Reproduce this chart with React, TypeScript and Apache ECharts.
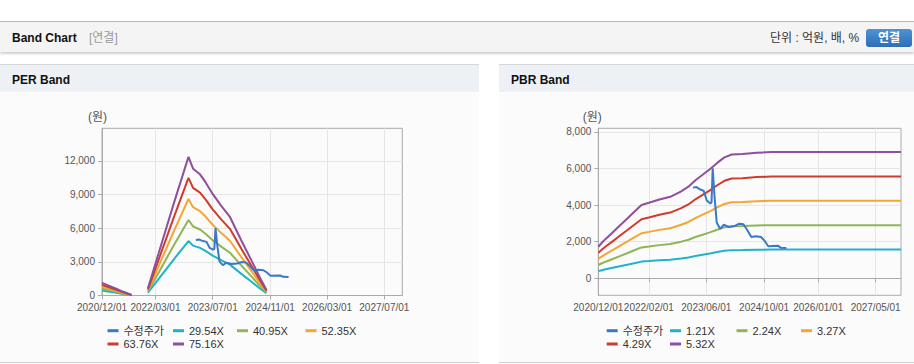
import React, { useEffect, useRef } from 'react';
import * as echarts from 'echarts';

// ---------- PER band data ----------
const perDates = ['2020-12-01', '2021-02-01', '2021-04-01', '2021-06-01', '2021-08-10', '2021-11-01', '2021-12-27', '2022-04-01', '2022-08-01', '2022-12-07', '2023-01-15', '2023-03-15', '2023-05-01', '2023-07-01', '2023-09-15', '2023-11-25', '2024-03-01', '2024-06-01', '2024-08-01', '2024-10-01'];
const per2954 = [440, 338, 236, 130, 16, null, 255, 1533, 3183, 4854, 4441, 4244, 3969, 3557, 3124, 2751, 1926, 1179, 668, 197];
const per4095 = [610, 469, 327, 180, 22, null, 354, 2125, 4413, 6728, 6156, 5884, 5502, 4930, 4331, 3814, 2670, 1634, 926, 272];
const per5235 = [780, 599, 418, 230, 28, null, 453, 2716, 5642, 8602, 7870, 7522, 7035, 6303, 5537, 4876, 3413, 2090, 1184, 348];
const per6376 = [950, 730, 509, 280, 34, null, 551, 3308, 6871, 10477, 9586, 9162, 8568, 7677, 6744, 5938, 4157, 2545, 1442, 424];
const per7516 = [1120, 860, 600, 330, 40, null, 650, 3900, 8100, 12350, 11300, 10800, 10100, 9050, 7950, 7000, 4900, 3000, 1700, 500];

// ---------- PBR band data ----------
const pbrDates = ['2020-12-01', '2021-01-01', '2021-02-01', '2021-04-01', '2021-06-01', '2021-08-01', '2021-10-01', '2021-12-01', '2022-02-01', '2022-05-01', '2022-08-01', '2022-11-01', '2023-01-01', '2023-03-01', '2023-05-01', '2023-07-01', '2023-09-01', '2023-11-01', '2024-01-01', '2024-04-01', '2024-08-01', '2024-12-01', '2027-12-01'];
const pbr121 = [391, 443, 489, 569, 655, 739, 825, 910, 937, 978, 1012, 1080, 1137, 1217, 1285, 1353, 1433, 1501, 1537, 1542, 1558, 1567, 1567];
const pbr224 = [724, 821, 905, 1053, 1212, 1368, 1528, 1684, 1735, 1810, 1873, 2000, 2105, 2252, 2379, 2505, 2652, 2779, 2846, 2854, 2884, 2901, 2901];
const pbr327 = [1057, 1199, 1322, 1537, 1770, 1998, 2231, 2459, 2533, 2643, 2735, 2920, 3074, 3289, 3473, 3657, 3873, 4057, 4155, 4168, 4211, 4235, 4235];
const pbr429 = [1387, 1572, 1734, 2016, 2322, 2621, 2927, 3226, 3322, 3468, 3588, 3830, 4032, 4314, 4556, 4798, 5080, 5322, 5451, 5467, 5524, 5556, 5556];
const pbr532 = [1720, 1950, 2150, 2500, 2880, 3250, 3630, 4000, 4120, 4300, 4450, 4750, 5000, 5350, 5650, 5950, 6300, 6600, 6760, 6780, 6850, 6890, 6890];

// ---------- adjusted price (수정주가) ----------
const priceDates = ['2023-02-08', '2023-03-10', '2023-04-10', '2023-05-10', '2023-06-05', '2023-07-05', '2023-07-15', '2023-07-25', '2023-08-10', '2023-08-28', '2023-09-25', '2023-10-25', '2023-12-10', '2024-01-25', '2024-03-05', '2024-04-10', '2024-05-10', '2024-06-15', '2024-07-25', '2024-09-05', '2024-10-05', '2024-11-05', '2025-01-25', '2025-02-20', '2025-04-07'];
const priceValues = [4950, 4980, 4850, 4780, 4250, 4080, 4150, 6000, 4400, 3050, 2700, 2920, 2800, 2850, 2980, 2950, 2650, 2250, 2300, 2250, 2050, 1750, 1780, 1660, 1650];

// ---------- axes ----------
const perXTicks = ['2020-12-01', '2022-03-01', '2023-07-01', '2024-11-01', '2026-03-01', '2027-07-01'];
const pbrXTicks = ['2020-12-01', '2022-02-01', '2023-06-01', '2024-10-01', '2026-01-01', '2027-05-01'];
const perYTicks = [0, 3000, 6000, 9000, 12000];
const pbrYTicks = [0, 2000, 4000, 6000, 8000];
const xStart = '2020-12-01';
const xEnd = '2027-12-01';

const perNames = ['29.54X', '40.95X', '52.35X', '63.76X', '75.16X'];
const pbrNames = ['1.21X', '2.24X', '3.27X', '4.29X', '5.32X'];
const priceName = '수정주가';
const bandColors = ['#1fb3c8', '#8fb655', '#f4a532', '#cf3b2c', '#8e4f9d'];
const priceColor = '#3a78c9';

const ts = (s: string) => Date.UTC(+s.slice(0, 4), +s.slice(5, 7) - 1, +s.slice(8, 10));
const pad = (n: number) => (n < 10 ? '0' + n : '' + n);
const fmtDate = (v: number) => {
  const d = new Date(v);
  return `${d.getUTCFullYear()}/${pad(d.getUTCMonth() + 1)}/${pad(d.getUTCDate())}`;
};
const fmtNum = (v: number) => Math.round(v).toLocaleString('en-US');

const FONT = 'Arial, "Liberation Sans", "Noto Sans CJK KR", sans-serif';
const AXFONT = 'Arial, "Liberation Sans", sans-serif';

function pairs(dates: string[], vals: (number | null)[]) {
  return dates.map((d, i) => [ts(d), vals[i]]);
}

function xAxisCfg(grid: number, ticks: string[]) {
  const tv = ticks.map(ts);
  return {
    type: 'value',
    gridIndex: grid,
    min: ts(xStart),
    max: ts(xEnd),
    axisLine: { show: true, lineStyle: { color: '#aaaaaa' } },
    axisTick: { show: true, length: 4, customValues: tv, lineStyle: { color: '#aaaaaa' } },
    axisLabel: {
      customValues: tv,
      showMinLabel: true,
      showMaxLabel: true,
      hideOverlap: false,
      formatter: (v: number) => fmtDate(v),
      color: '#555555',
      fontSize: 10,
      fontFamily: AXFONT,
      margin: 7,
    },
    splitLine: { show: true, lineStyle: { color: '#e6e6e6' } },
  };
}

function yAxisCfg(grid: number, ticks: number[], min: number, max: number, padRight: number) {
  return {
    type: 'value',
    gridIndex: grid,
    min,
    max,
    name: '(원)',
    nameLocation: 'end',
    nameGap: 5,
    nameTextStyle: { color: '#555555', fontSize: 12, fontFamily: FONT, padding: [0, padRight, 0, 0] },
    axisLine: { show: true, lineStyle: { color: '#aaaaaa' } },
    axisTick: { show: true, length: 4, customValues: ticks, lineStyle: { color: '#aaaaaa' } },
    axisLabel: {
      customValues: ticks,
      showMinLabel: true,
      formatter: (v: number) => fmtNum(v),
      color: '#555555',
      fontSize: 10,
      fontFamily: AXFONT,
      margin: 7,
    },
    splitLine: { show: true, lineStyle: { color: '#e6e6e6' } },
  };
}

function lineSeries(name: string, grid: number, data: any[], color: string, z = 2) {
  return {
    type: 'line',
    name,
    xAxisIndex: grid,
    yAxisIndex: grid,
    data,
    color,
    showSymbol: false,
    symbol: 'none',
    connectNulls: false,
    lineStyle: { width: 2, color },
    z,
  };
}

function legendCfg(name: string, left: number, top: number) {
  return {
    data: [name],
    left,
    top,
    padding: 0,
    icon: 'rect',
    itemWidth: 11,
    itemHeight: 3,
    textStyle: { fontSize: 11, color: '#333333', fontFamily: FONT, lineHeight: 14 },
  };
}

export default function App() {
  const ref = useRef<HTMLDivElement>(null);

  useEffect(() => {
    if (!ref.current) return;
    const chart = echarts.init(ref.current, undefined, { renderer: 'svg' });
    const perBands = [per2954, per4095, per5235, per6376, per7516];
    const pbrBands = [pbr121, pbr224, pbr327, pbr429, pbr532];
    const series: any[] = [];
    perBands.forEach((b, i) => series.push(lineSeries(perNames[i], 0, pairs(perDates, b), bandColors[i])));
    series.push(lineSeries(priceName, 0, pairs(priceDates, priceValues), priceColor, 3));
    pbrBands.forEach((b, i) => series.push(lineSeries(pbrNames[i], 1, pairs(pbrDates, b), bandColors[i])));
    series.push(lineSeries(priceName, 1, pairs(priceDates, priceValues), priceColor, 3));

    const r1 = 323.7;
    const r2 = 337;
    const legends = [
      legendCfg(priceName, 107.5, r1),
      legendCfg(perNames[0], 173, r1),
      legendCfg(perNames[1], 237, r1),
      legendCfg(perNames[2], 305.5, r1),
      legendCfg(perNames[3], 107.5, r2),
      legendCfg(perNames[4], 173, r2),
      legendCfg(priceName, 606.7, r1),
      legendCfg(pbrNames[0], 670, r1),
      legendCfg(pbrNames[1], 736.5, r1),
      legendCfg(pbrNames[2], 801, r1),
      legendCfg(pbrNames[3], 606.7, r2),
      legendCfg(pbrNames[4], 670, r2),
    ];

    chart.setOption({
      animation: false,
      textStyle: { fontFamily: FONT },
      grid: [
        { left: 102, top: 128.3, width: 300.3, height: 167.2, show: true, borderColor: '#aaaaaa', borderWidth: 1, containLabel: false },
        { left: 598.3, top: 128.3, width: 302.7, height: 167, show: true, borderColor: '#aaaaaa', borderWidth: 1, containLabel: false },
      ],
      xAxis: [xAxisCfg(0, perXTicks), xAxisCfg(1, pbrXTicks)],
      yAxis: [yAxisCfg(0, perYTicks, 0, 14900, 9), yAxisCfg(1, pbrYTicks, -930, 8190, 12)],
      legend: legends,
      series,
    });
    return () => chart.dispose();
  }, []);

  const panelTitle = (left: number, width: number, text: string) => (
    <div
      style={{
        position: 'absolute', left, top: 64, width, height: 28, background: '#edf1f6',
        borderTop: '1px solid #d6d6d6', fontWeight: 'bold', fontSize: 12, lineHeight: '30px',
        paddingLeft: 12, boxSizing: 'border-box', color: '#111',
      }}
    >
      {text}
    </div>
  );
  const panelBody = (left: number, width: number) => (
    <div
      style={{
        position: 'absolute', left, top: 93, width, height: 270, background: '#fbfbfb',
        borderBottom: '1px solid #cfcfcf', boxSizing: 'border-box',
      }}
    />
  );

  return (
    <div
      style={{
        position: 'absolute', left: 0, top: 0, width: 914, height: 364, background: '#ffffff',
        overflow: 'hidden', fontFamily: FONT,
      }}
    >
      <div
        style={{
          position: 'absolute', left: 0, top: 21, width: 914, height: 31, background: '#f4f4f4',
          borderTop: '1px solid #b8b8b8', boxShadow: '0 2px 2px rgba(0,0,0,0.18)', boxSizing: 'border-box',
        }}
      >
        <span style={{ position: 'absolute', left: 12, top: 0, lineHeight: '32px', fontSize: 12, fontWeight: 'bold', color: '#111' }}>
          Band Chart
        </span>
        <span style={{ position: 'absolute', left: 89, top: 0, lineHeight: '32px', fontSize: 12, color: '#999' }}>
          [연결]
        </span>
        <span style={{ position: 'absolute', left: 770, top: 0, lineHeight: '32px', fontSize: 12, color: '#333' }}>
          단위 : 억원, 배, %
        </span>
        <div
          style={{
            position: 'absolute', left: 866, top: 7, width: 46, height: 18, borderRadius: 3,
            background: 'linear-gradient(#4f93d4, #2e6db4)', color: '#fff', fontSize: 12, fontWeight: 'bold',
            textAlign: 'center', lineHeight: '18px',
          }}
        >
          연결
        </div>
      </div>
      {panelTitle(0, 479, 'PER Band')}
      {panelTitle(499, 415, 'PBR Band')}
      {panelBody(0, 479)}
      {panelBody(499, 415)}
      <div ref={ref} style={{ position: 'absolute', left: 0, top: 0, width: 914, height: 364, zIndex: 2 }} />
    </div>
  );
}
